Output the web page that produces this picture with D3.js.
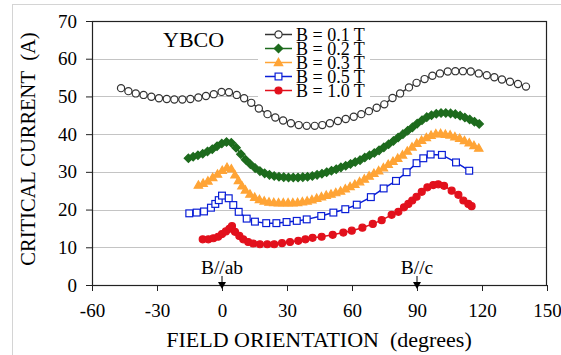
<!DOCTYPE html>
<html>
<head>
<meta charset="utf-8">
<script src="https://cdn.jsdelivr.net/npm/d3@7"></script>
<style>
  html, body { margin: 0; padding: 0; background: #fff; }
  svg { display: block; }
  svg text { font-family: "Liberation Serif", "DejaVu Serif", serif; }
</style>
</head>
<body>
<svg id="chart" width="561" height="355"></svg>
<script>
// ---------- data ----------
const xTicks = [-60, -30, 0, 30, 60, 90, 120, 150];
const yTicks = [0, 10, 20, 30, 40, 50, 60, 70];
const seriesNames = ["B = 0.1 T", "B = 0.2 T", "B = 0.3 T", "B = 0.5 T", "B = 1.0 T"];

const angle01 = [-46.6,-43.2,-39.8,-36.2,-32.6,-29.1,-25.5,-22.0,-18.3,-14.6,-10.9,-7.4,-3.8,-0.2,3.2,6.8,10.2,13.5,17.0,21.0,24.6,28.2,31.8,35.4,39.1,42.8,46.3,49.8,53.5,57.1,60.8,64.3,67.8,71.4,74.9,78.7,82.2,86.3,89.8,93.5,97.1,100.6,104.2,107.7,111.2,114.8,118.5,122.2,125.7,129.2,132.9,136.6,140.3];
const ic01 = [52.2,51.4,50.8,50.4,49.9,49.5,49.3,49.2,49.2,49.3,49.7,50.1,50.6,51.2,51.1,50.4,49.5,48.3,46.8,45.3,44.4,43.6,42.9,42.4,42.2,42.2,42.4,42.9,43.5,44.0,44.6,45.3,46.1,47.0,47.9,49.6,50.8,52.4,53.6,54.6,55.5,56.1,56.6,56.7,56.7,56.6,56.1,55.6,55.1,54.5,53.9,53.3,52.6];

const angle02 = [-15.5,-13.3,-11.1,-8.9,-6.7,-4.5,-2.3,-0.1,2.1,4.3,6.5,8.7,10.9,13.1,15.3,17.5,19.7,21.9,24.1,26.3,28.5,30.7,32.9,35.1,37.3,39.5,41.7,43.9,46.1,48.3,50.5,52.7,54.9,57.1,59.3,61.5,63.7,65.9,68.1,70.3,72.5,74.7,76.9,79.1,81.3,83.5,85.7,87.9,90.1,92.3,94.5,96.7,98.9,101.1,103.3,105.5,107.7,109.9,112.1,114.3,116.5,118.7];
const ic02 = [33.6,34.0,34.4,34.8,35.4,36.0,36.8,37.5,37.9,37.7,36.4,34.7,33.2,32.0,31.0,30.2,29.6,29.2,28.9,28.7,28.6,28.5,28.5,28.5,28.6,28.7,28.9,29.2,29.5,29.9,30.3,30.7,31.2,31.6,32.1,32.6,33.1,33.8,34.4,35.0,35.7,36.5,37.3,38.2,39.1,40.0,40.9,41.8,42.8,43.7,44.5,45.0,45.4,45.6,45.6,45.5,45.3,44.9,44.4,43.9,43.3,42.7];

const angle03 = [-10.9,-8.7,-6.5,-4.3,-2.1,0.1,2.3,4.3,6.0,7.6,9.2,10.8,12.9,15.1,17.3,19.5,21.7,23.9,26.1,28.3,30.5,32.7,34.9,37.1,39.3,41.5,43.7,45.9,48.1,50.3,52.5,54.7,56.9,59.1,61.3,63.5,65.7,67.9,70.1,72.3,74.5,76.7,78.9,81.1,83.3,85.5,87.7,89.9,92.1,94.3,96.5,98.7,100.9,103.1,105.3,107.5,109.7,111.9,114.1,116.3,118.5];
const ic03 = [26.5,27.0,27.6,28.5,29.4,30.4,31.2,30.8,29.2,27.7,26.3,25.2,24.1,23.3,22.7,22.3,22.0,21.9,21.8,21.8,21.8,21.8,21.9,22.1,22.3,22.6,23.0,23.4,23.8,24.1,24.5,24.9,25.5,26.1,26.7,27.4,28.1,28.9,29.6,30.3,31.1,32.0,32.8,33.6,34.5,35.5,36.6,37.6,38.4,39.1,39.7,40.1,40.2,40.0,39.8,39.3,38.9,38.3,37.7,37.0,36.3];

const angle05 = [-15.1,-11.7,-8.3,-5.1,-3.1,-1.5,0.0,3.1,5.2,7.7,11.4,15.2,20.4,25.1,29.8,34.5,39.1,45.8,51.4,56.9,62.2,68.7,74.6,80.3,85.2,89.8,92.9,96.3,101.5,108.0,114.1];
const ic05 = [19.0,19.2,19.5,20.5,21.5,22.5,23.7,23.0,21.2,19.4,17.6,16.8,16.4,16.4,16.7,17.0,17.4,18.3,19.2,20.1,21.3,23.3,25.6,27.6,29.9,32.3,33.6,34.6,34.5,32.5,30.3];

const angle10 = [-8.9,-6.3,-4.0,-1.8,0.0,1.8,3.4,4.6,6.0,8.0,9.8,12.1,14.4,17.5,20.9,24.1,27.7,31.4,35.2,38.5,41.8,46.0,51.1,56.0,59.9,64.8,69.6,73.7,78.3,81.4,84.0,86.0,87.8,89.8,92.2,94.8,97.5,99.8,102.5,106.0,109.1,111.4,113.7,115.2];
const ic10 = [12.1,12.1,12.4,12.8,13.5,14.2,14.9,15.6,14.1,13.0,12.1,11.4,11.0,10.8,10.8,10.8,11.1,11.4,11.7,12.1,12.5,12.8,13.3,13.9,14.4,15.2,16.2,17.2,18.6,19.4,20.6,21.5,22.4,23.4,24.7,25.9,26.5,26.7,26.3,25.0,23.9,22.4,21.5,20.9];

const angleLists = [angle01, angle02, angle03, angle05, angle10];
const valueLists = [ic01, ic02, ic03, ic05, ic10];

// ---------- styles ----------
const FONT = "'Liberation Serif', 'DejaVu Serif', serif";
const styles = [
  { color: "#333333", shape: "circle", fill: "#ffffff", size: 3.6 },
  { color: "#1d6b1d", shape: "diamond", fill: "#1d6b1d", size: 4.2 },
  { color: "#ffa436", shape: "triangle", fill: "#ffa436", size: 4.2 },
  { color: "#0a1ed6", shape: "square", fill: "#ffffff", size: 3.4 },
  { color: "#e2101c", shape: "circle", fill: "#e2101c", size: 3.5 }
];

const svg = d3.select("#chart");
const plot = { left: 92, right: 547, top: 21, bottom: 285 };

const x = d3.scaleLinear().domain([-60, 150]).range([plot.left, plot.right]);
const y = d3.scaleLinear().domain([0, 70]).range([plot.bottom, plot.top]);

// outer chart border
svg.append("rect").attr("x", 12.5).attr("y", 4.5).attr("width", 600).attr("height", 400)
  .attr("fill", "none").attr("stroke", "#d4d4d4").attr("stroke-width", 1);

// gridlines
svg.append("g").selectAll("line").data(yTicks.filter(d => d > 0)).join("line")
  .attr("x1", plot.left).attr("x2", plot.right)
  .attr("y1", d => Math.round(y(d)) + 0.5).attr("y2", d => Math.round(y(d)) + 0.5)
  .attr("stroke", "#c4c4c4").attr("stroke-width", 1);

// axes
const fmt = d => String(d);
const xAxis = svg.append("g").attr("transform", `translate(0,${plot.bottom})`)
  .call(d3.axisBottom(x).tickValues(xTicks).tickSizeInner(6).tickSizeOuter(0).tickPadding(13).tickFormat(fmt));
const yAxis = svg.append("g").attr("transform", `translate(${plot.left},0)`)
  .call(d3.axisLeft(y).tickValues(yTicks).tickSizeInner(6).tickSizeOuter(0).tickPadding(9).tickFormat(fmt));
[xAxis, yAxis].forEach(a => {
  a.attr("font-family", FONT).attr("font-size", 19);
  a.select(".domain").remove();
  a.selectAll("line").attr("stroke", "#222");
  a.selectAll("text").attr("font-size", 19).attr("fill", "#000").attr("font-family", FONT);
});

// plot border
svg.append("rect").attr("x", plot.left + 0.5).attr("y", plot.top + 0.5)
  .attr("width", plot.right - plot.left - 1).attr("height", plot.bottom - plot.top)
  .attr("fill", "none").attr("stroke", "#222").attr("stroke-width", 1.2);

// axis titles
svg.append("text").attr("x", 319).attr("y", 347).attr("text-anchor", "middle")
  .attr("font-family", FONT).attr("font-size", 22).text("FIELD ORIENTATION\u00A0\u00A0(degrees)");
svg.append("text").attr("transform", "translate(35,149) rotate(-90)").attr("text-anchor", "middle")
  .attr("font-family", FONT).attr("font-size", 20.5).text("CRITICAL CURRENT\u00A0\u00A0(A)");

// YBCO label
svg.append("text").attr("x", 163).attr("y", 47).attr("font-family", FONT).attr("font-size", 22).text("YBCO");

// marker generator
function marker(sel, st) {
  const s = st.size;
  if (st.shape === "circle") {
    sel.append("circle").attr("r", s);
  } else if (st.shape === "square") {
    sel.append("rect").attr("x", -s).attr("y", -s).attr("width", 2 * s).attr("height", 2 * s);
  } else if (st.shape === "diamond") {
    sel.append("path").attr("d", `M0,${-s}L${s},0L0,${s}L${-s},0Z`);
  } else if (st.shape === "triangle") {
    sel.append("path").attr("d", `M0,${-s}L${s},${s * 0.75}L${-s},${s * 0.75}Z`);
  }
  sel.selectAll("*").attr("fill", st.fill).attr("stroke", st.color).attr("stroke-width", 1.2);
}

const line = d3.line().x(d => x(d[0])).y(d => y(d[1]));

angleLists.forEach((angles, i) => {
  const pts = angles.map((a, k) => [a, valueLists[i][k]]);
  const st = styles[i];
  const g = svg.append("g");
  g.append("path").datum(pts).attr("d", line).attr("fill", "none")
    .attr("stroke", st.color).attr("stroke-width", 1.5);
  g.selectAll("g.m").data(pts).join("g").attr("class", "m")
    .attr("transform", d => `translate(${x(d[0])},${y(d[1])})`)
    .each(function () { marker(d3.select(this), st); });
});

// legend
const lg = svg.append("g");
lg.append("rect").attr("x", 258).attr("y", 24).attr("width", 112).attr("height", 74).attr("fill", "#fff");
seriesNames.forEach((name, i) => {
  const st = styles[i];
  const cy = 34.5 + i * 14;
  const row = lg.append("g");
  row.append("line").attr("x1", 265).attr("x2", 292).attr("y1", cy).attr("y2", cy)
    .attr("stroke", st.color).attr("stroke-width", 1.5);
  const m = row.append("g").attr("transform", `translate(278.5,${cy})`);
  marker(m, st);
  row.append("text").attr("x", 296).attr("y", cy + 6).attr("font-family", FONT)
    .attr("font-size", 18).text(name);
});

// B//ab and B//c annotations
const annos = [{ label: "B//ab", angle: 0 }, { label: "B//c", angle: 90 }];
annos.forEach(a => {
  const ax = x(a.angle);
  svg.append("text").attr("x", ax).attr("y", 274).attr("text-anchor", "middle")
    .attr("font-family", FONT).attr("font-size", 19.5).text(a.label);
  svg.append("line").attr("x1", ax).attr("x2", ax).attr("y1", 276).attr("y2", 283)
    .attr("stroke", "#000").attr("stroke-width", 1);
  svg.append("path").attr("d", `M${ax - 4},282L${ax + 4},282L${ax},289Z`).attr("fill", "#000");
});
</script>
</body>
</html>
